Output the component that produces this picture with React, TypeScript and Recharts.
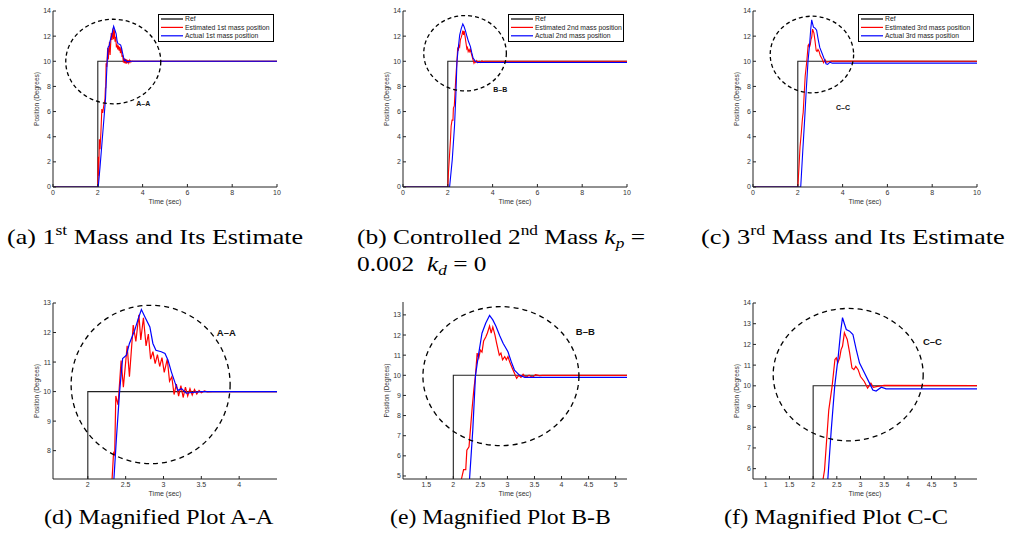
import React from 'react'
import { LineChart, Line, XAxis, YAxis, ReferenceDot } from 'recharts'

// step reference (time in sec, position in degrees)
const refT = [0, 2, 2, 10]
const refPos = [0, 0, 10, 10]

// [time, position]
const est1: [number, number][] = [
  [0, 0], [2.0, 0], [2.02, 2.4], [2.04, 0.9], [2.07, 3.8], [2.1, 3.0], [2.14, 4.4], [2.18, 6.2],
  [2.22, 5.9], [2.26, 6.4], [2.3, 6.8], [2.32, 7.0], [2.34, 7.92], [2.355, 7.85], [2.37, 9.85],
  [2.4, 9.55], [2.44, 11.05], [2.47, 10.15], [2.52, 11.55], [2.55, 10.5], [2.6, 12.25], [2.635, 11.7],
  [2.675, 12.6], [2.7, 11.75], [2.735, 12.5], [2.77, 11.55], [2.8, 11.95], [2.83, 11.1], [2.86, 11.35],
  [2.89, 10.95], [2.92, 11.25], [2.95, 10.85], [2.98, 11.15], [3.01, 10.65], [3.05, 11.1], [3.08, 10.35],
  [3.11, 10.5], [3.14, 9.9], [3.17, 10.25], [3.2, 9.85], [3.23, 10.2], [3.26, 9.8], [3.29, 10.15],
  [3.32, 9.85], [3.35, 10.1], [3.38, 9.88], [3.41, 10.07], [3.44, 9.92], [3.47, 10.04], [3.5, 9.96],
  [3.54, 10.02], [3.58, 9.99], [3.65, 10], [10, 10],
]
const act1: [number, number][] = [
  [0, 0], [2.02, 0], [2.1, 1.6], [2.2, 3.8], [2.3, 6.0], [2.345, 7.04], [2.38, 8.5], [2.42, 10],
  [2.46, 11.12], [2.51, 11.23], [2.55, 11.63], [2.62, 12.08], [2.667, 12.47], [2.708, 12.78],
  [2.766, 12.47], [2.82, 12.19], [2.86, 11.63], [2.9, 11.4], [2.97, 11.35], [3.02, 11.29],
  [3.06, 11.06], [3.105, 10.66], [3.15, 10.32], [3.19, 10.04], [3.24, 10.1], [3.3, 9.95],
  [3.38, 9.97], [3.5, 10], [10, 10],
]
const est2: [number, number][] = [
  [0, 0], [2.0, 0], [2.03, 1.2], [2.08, 2.6], [2.12, 3.8], [2.15, 4.85], [2.19, 5.32], [2.23, 5.32],
  [2.25, 6.28], [2.29, 6.45], [2.32, 7.44], [2.35, 8.44], [2.38, 9.3], [2.41, 10.0], [2.44, 11.1],
  [2.47, 10.85], [2.5, 11.25], [2.53, 11.15], [2.56, 11.7], [2.6, 11.9], [2.63, 12.1], [2.67, 12.45],
  [2.7, 12.1], [2.73, 12.4], [2.77, 12.0], [2.8, 11.6], [2.85, 11.0], [2.88, 11.1], [2.91, 10.77],
  [2.95, 10.93], [2.98, 10.77], [3.01, 10.93], [3.04, 10.68], [3.09, 10.35], [3.13, 10.1], [3.17, 9.85],
  [3.21, 10.0], [3.25, 9.9], [3.29, 10.05], [3.34, 9.9], [3.4, 10.0], [3.46, 9.9], [3.52, 10.03],
  [3.59, 9.98], [3.65, 10], [10, 10],
]
const act2: [number, number][] = [
  [0, 0], [2.08, 0], [2.2, 2.2], [2.3, 4.85], [2.36, 7.3], [2.41, 10], [2.46, 10.93], [2.53, 12.09],
  [2.6, 12.6], [2.67, 12.97], [2.73, 12.75], [2.79, 12.42], [2.86, 11.95], [2.92, 11.59], [3.01, 11.17],
  [3.07, 10.68], [3.13, 10.26], [3.22, 10.01], [3.32, 9.9], [10, 9.9],
]
const est3: [number, number][] = [
  [0, 0], [2.0, 0], [2.05, 1.5], [2.1, 3.2], [2.15, 4.2], [2.21, 5.5], [2.24, 5.92], [2.33, 8.83],
  [2.4, 9.97], [2.46, 11.27], [2.49, 11.35], [2.52, 11.1], [2.56, 11.35], [2.59, 11.75], [2.62, 11.91],
  [2.66, 12.56], [2.69, 12.4], [2.72, 12.24], [2.77, 11.6], [2.82, 10.86], [2.86, 10.78], [2.9, 10.94],
  [2.95, 10.78], [3.0, 10.45], [3.08, 10.21], [3.15, 9.89], [3.22, 10.13], [3.27, 9.93], [3.36, 9.97],
  [3.5, 10.02], [10, 10],
]
const act3: [number, number][] = [
  [0, 0], [2.13, 0], [2.22, 2.8], [2.31, 5.5], [2.38, 7.8], [2.456, 10], [2.53, 11.42], [2.58, 12.6],
  [2.62, 13.29], [2.66, 13.0], [2.7, 12.72], [2.77, 12.64], [2.84, 12.48], [2.91, 11.75], [2.98, 11.1],
  [3.09, 10.6], [3.19, 10.13], [3.26, 9.8], [3.33, 9.75], [3.44, 9.93], [3.54, 9.85], [10, 9.85],
]

const fullTicksX = [0, 2, 4, 6, 8, 10]
const fullTicksY = [0, 2, 4, 6, 8, 10, 12, 14]
const zoomTicksXA = [2, 2.5, 3, 3.5, 4]
const zoomTicksYA = [8, 9, 10, 11, 12, 13]
const zoomTicksXB = [1.5, 2, 2.5, 3, 3.5, 4, 4.5, 5]
const zoomTicksYB = [5, 6, 7, 8, 9, 10, 11, 12, 13]
const zoomTicksXC = [1, 1.5, 2, 2.5, 3, 3.5, 4, 4.5, 5]
const zoomTicksYC = [6, 7, 8, 9, 10, 11, 12, 13, 14]

const ordinals = ['1st', '2nd', '3rd']
const tags = ['A–A', 'B–B', 'C–C']

const SANS = '"Liberation Sans", Arial, sans-serif'
const SERIF = '"Liberation Serif", "Times New Roman", serif'

const toPts = (p: [number, number][]) => p.map(([t, v]) => ({ t, v }))
const refPts = refT.map((t, i) => ({ t, v: refPos[i] }))

function LegendBox({ w, n }: { w: number; n: string }) {
  const rows = [
    { name: 'Ref', color: '#000' },
    { name: `Estimated ${n} mass position`, color: '#ff0000' },
    { name: `Actual ${n} mass position`, color: '#0000ff' },
  ]
  return (
    <svg
      width={116}
      height={28}
      style={{ position: 'absolute', left: 50 + w - 119, top: 8, background: '#fff' }}
    >
      <rect x={0.5} y={0.5} width={115} height={27} fill="#fff" stroke="#000" strokeWidth={1} />
      {rows.map((r, i) => (
        <g key={r.name}>
          <line x1={3} x2={25} y1={5 + i * 8.4} y2={5 + i * 8.4} stroke={r.color} strokeWidth={1.2} />
          <text x={27} y={7.3 + i * 8.4} fontSize={6.8} fontFamily={SANS} fill="#222">
            {r.name}
          </text>
        </g>
      ))}
    </svg>
  )
}

function Panel(props: any) {
  const { x, y, w, h, xDom, yDom, xTicks, yTicks, est, act, ring, tag, legend, big } = props
  const W = w + 60
  const H = h + 30
  const tickStyle = { fontSize: 7, fill: '#333', fontFamily: SANS }
  const xLabel = (p: any) => (
    <text
      x={p.viewBox.x + p.viewBox.width / 2}
      y={p.viewBox.y + 17}
      textAnchor="middle"
      fontSize={7}
      fontFamily={SANS}
      fill="#333"
    >
      Time (sec)
    </text>
  )
  const yLabel = (p: any) => {
    const lx = p.viewBox.x + p.viewBox.width - 14.5
    const ly = p.viewBox.y + p.viewBox.height / 2
    return (
      <text
        x={lx}
        y={ly}
        transform={`rotate(-90 ${lx} ${ly})`}
        textAnchor="middle"
        fontSize={6.5}
        fontFamily={SANS}
        fill="#333"
      >
        Position (Degrees)
      </text>
    )
  }
  const lw = big ? 1.2 : 1.1
  return (
    <div style={{ position: 'absolute', left: x - 50, top: y - 5, width: W, height: H }}>
      <LineChart width={W} height={H} margin={{ top: 5, right: 10, bottom: 0, left: 0 }}>
        <XAxis
          xAxisId={0}
          type="number"
          dataKey="t"
          domain={xDom}
          ticks={xTicks}
          interval={0}
          allowDataOverflow
          height={25}
          tickSize={-3}
          tickMargin={6}
          stroke="#222"
          tick={tickStyle}
          label={xLabel}
        />
        <XAxis
          xAxisId="top"
          orientation="top"
          type="number"
          dataKey="t"
          domain={xDom}
          ticks={xTicks}
          interval={0}
          allowDataOverflow
          height={0}
          tickSize={-3}
          stroke="#222"
          tickFormatter={() => ''}
        />
        <YAxis
          yAxisId={0}
          type="number"
          domain={yDom}
          ticks={yTicks}
          interval={0}
          allowDataOverflow
          width={50}
          tickSize={-3}
          tickMargin={5}
          stroke="#222"
          tick={tickStyle}
          label={yLabel}
        />
        <YAxis
          yAxisId="right"
          orientation="right"
          type="number"
          domain={yDom}
          ticks={yTicks}
          interval={0}
          allowDataOverflow
          width={0}
          tickSize={-3}
          stroke="#222"
          tickFormatter={() => ''}
        />
        <Line data={refPts} dataKey="v" type="linear" stroke="#222" strokeWidth={1.1} dot={false} activeDot={false} isAnimationActive={false} />
        <Line data={toPts(est)} dataKey="v" type="linear" stroke="#ff0000" strokeWidth={lw} dot={false} activeDot={false} isAnimationActive={false} />
        <Line data={toPts(act)} dataKey="v" type="linear" stroke="#0000ff" strokeWidth={lw} dot={false} activeDot={false} isAnimationActive={false} />
        <ReferenceDot
          x={ring.cx}
          y={ring.cy}
          shape={(p: any) => (
            <ellipse
              cx={p.cx}
              cy={p.cy}
              rx={ring.rx}
              ry={ring.ry}
              fill="none"
              stroke="#000"
              strokeWidth={1.3}
              strokeDasharray={big ? '5 4' : '4 3'}
            />
          )}
        />
        <ReferenceDot
          x={tag.x}
          y={tag.y}
          shape={(p: any) => (
            <text
              x={p.cx}
              y={p.cy}
              textAnchor="middle"
              dominantBaseline="central"
              fontSize={big ? 9.5 : 7}
              fontWeight="bold"
              fontFamily={SANS}
              fill="#111"
            >
              {tag.text}
            </text>
          )}
        />
      </LineChart>
      {legend && <LegendBox w={w} n={legend} />}
    </div>
  )
}

const sup = { fontSize: '0.68em', position: 'relative' as const, top: '-0.6em' }
const sub = { fontSize: '0.68em', position: 'relative' as const, top: '0.3em' }
const capStyle = (left: number, top: number, sx: number): React.CSSProperties => ({
  position: 'absolute',
  left,
  top,
  fontFamily: SERIF,
  fontSize: 21,
  lineHeight: '25px',
  whiteSpace: 'nowrap',
  transform: `scaleX(${sx})`,
  transformOrigin: 'left top',
  color: '#000',
})

export default function App() {
  return (
    <div style={{ position: 'absolute', left: 0, top: 0, width: 1009, height: 545, background: '#fff', overflow: 'hidden' }}>
      <Panel x={53} y={11} w={224} h={176} xDom={[0, 10]} yDom={[0, 14]} xTicks={fullTicksX} yTicks={fullTicksY}
        est={est1} act={act1} ring={{ cx: 2.69, cy: 9.98, rx: 47.5, ry: 42.3 }} tag={{ x: 4.03, y: 6.62, text: tags[0] }} legend={ordinals[0]} />
      <Panel x={403} y={11} w={224} h={176} xDom={[0, 10]} yDom={[0, 14]} xTicks={fullTicksX} yTicks={fullTicksY}
        est={est2} act={act2} ring={{ cx: 2.77, cy: 10.64, rx: 41.3, ry: 37.7 }} tag={{ x: 4.34, y: 7.76, text: tags[1] }} legend={ordinals[1]} />
      <Panel x={753} y={11} w={224} h={176} xDom={[0, 10]} yDom={[0, 14]} xTicks={fullTicksX} yTicks={fullTicksY}
        est={est3} act={act3} ring={{ cx: 2.63, cy: 10.54, rx: 41.7, ry: 38.3 }} tag={{ x: 4.02, y: 6.33, text: tags[2] }} legend={ordinals[2]} />

      <Panel x={53} y={303} w={224} h={176} xDom={[1.54, 4.5]} yDom={[7.04, 13]} xTicks={zoomTicksXA} yTicks={zoomTicksYA}
        est={est1} act={act1} ring={{ cx: 2.83, cy: 10.24, rx: 79.5, ry: 79.2 }} tag={{ x: 3.83, y: 11.99, text: tags[0] }} big />
      <Panel x={403} y={302} w={224} h={177} xDom={[1.07, 5.21]} yDom={[4.85, 13.64]} xTicks={zoomTicksXB} yTicks={zoomTicksYB}
        est={est2} act={act2} ring={{ cx: 2.88, cy: 9.96, rx: 78, ry: 69.5 }} tag={{ x: 4.44, y: 12.16, text: tags[1] }} big />
      <Panel x={753} y={303} w={224} h={176} xDom={[0.73, 5.46]} yDom={[5.5, 14]} xTicks={zoomTicksXC} yTicks={zoomTicksYC}
        est={est3} act={act3} ring={{ cx: 2.74, cy: 10.54, rx: 75, ry: 66.2 }} tag={{ x: 4.52, y: 12.12, text: tags[2] }} big />

      <div style={capStyle(7, 225, 1.24)}>(a) 1<span style={sup}>st</span> Mass and Its Estimate</div>
      <div style={capStyle(357, 225, 1.21)}>
        (b) Controlled 2<span style={sup}>nd</span> Mass <i>k</i><span style={sub}><i>p</i></span> =
        <br />
        0.002 &nbsp;<i>k</i><span style={sub}><i>d</i></span> = 0
      </div>
      <div style={capStyle(701, 225, 1.26)}>(c) 3<span style={sup}>rd</span> Mass and Its Estimate</div>
      <div style={capStyle(44, 505, 1.16)}>(d) Magnified Plot A-A</div>
      <div style={capStyle(390, 505, 1.13)}>(e) Magnified Plot B-B</div>
      <div style={capStyle(724, 505, 1.16)}>(f) Magnified Plot C-C</div>
    </div>
  )
}
